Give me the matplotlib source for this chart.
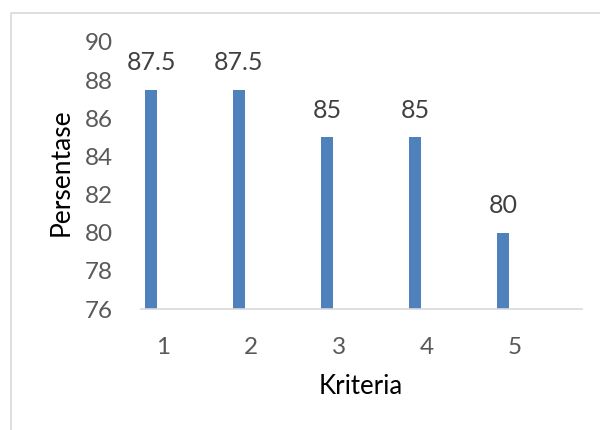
import matplotlib
matplotlib.use("Agg")
import matplotlib.pyplot as plt
from matplotlib.lines import Line2D

categories = ["1", "2", "3", "4", "5"]
values = [87.5, 87.5, 85, 85, 80]
value_labels = ["87.5", "87.5", "85", "85", "80"]
y_ticks = [76, 78, 80, 82, 84, 86, 88, 90]

plt.rcParams["font.family"] = ["Lato", "DejaVu Sans"]

W, H = 600, 430
fig = plt.figure(figsize=(W / 100, H / 100), dpi=100)
ax = fig.add_axes([141 / W, 1 - 309 / H, (582 - 141) / W, (309 - 42) / H])

x = list(range(1, len(categories) + 1))
bar_w = 12 / 88
offset = -bar_w  # bar sits left of the category centre (first slot of a 3-slot cluster)
bars = ax.bar([xi + offset for xi in x], values, width=bar_w, color="#4F81BD",
              bottom=0, zorder=3)

for xi, v, lab in zip(x, values, value_labels):
    ax.annotate(lab, (xi + offset, v), xytext=(0, 19.5), textcoords="offset points",
                ha="center", va="center", fontsize=18, color="#404040")

ax.set_ylim(76, 90)
ax.set_xlim(1 - 22 / 88, 5 + 67 / 88)
ax.set_yticks(y_ticks)
ax.set_xticks(x)
ax.set_xticklabels(categories)
ax.tick_params(axis="both", length=0, labelsize=17.5, labelcolor="#595959")
ax.tick_params(axis="y", pad=20)
ax.tick_params(axis="x", pad=20)

for side in ["top", "right", "left"]:
    ax.spines[side].set_visible(False)
ax.spines["bottom"].set_color("#D9D9D9")
ax.spines["bottom"].set_linewidth(1.2)
ax.spines["bottom"].set_zorder(4)

fig.text(61 / W, 1 - 172 / H, "Persentase", rotation=90, ha="center", va="center",
         fontsize=19, color="black")
fig.text(361 / W, 1 - 387 / H, "Kriteria", ha="center", va="center",
         fontsize=18.5, color="black")

# chart area frame (left and top edges)
fig.add_artist(Line2D([10.5 / W, 10.5 / W, 1.0], [0.0, 1 - 12.5 / H, 1 - 12.5 / H],
                      transform=fig.transFigure, color="#D9D9D9", linewidth=1.2))

fig.savefig("out.png", dpi=100)
